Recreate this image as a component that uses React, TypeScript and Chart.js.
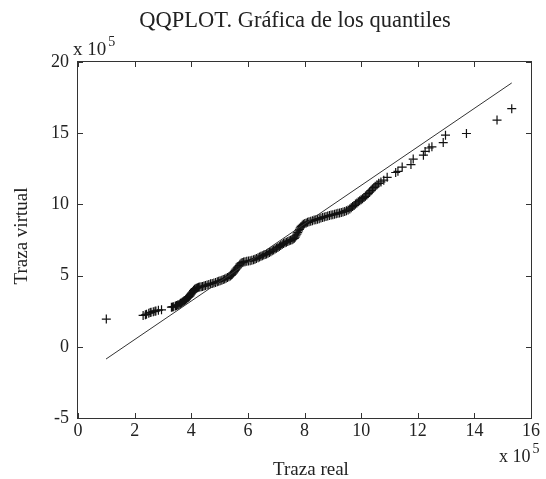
import React, { useEffect, useRef } from "react";
import { Chart, registerables } from "chart.js";

Chart.register(...registerables);

// ---- data (units of 10^5) ----
const xTicks = [0, 2, 4, 6, 8, 10, 12, 14, 16];
const yTicks = [-5, 0, 5, 10, 15, 20];

const realTrace = [
  1.0, 2.3, 2.38, 2.42, 2.5, 2.55, 2.58, 2.66, 2.72, 2.75, 2.84, 2.95,
  3.3, 3.34, 3.38, 3.44, 3.48, 3.52, 3.56, 3.6, 3.62, 3.65, 3.68, 3.71, 3.74,
  3.77, 3.8, 3.83, 3.86, 3.89, 3.92, 3.95, 3.97, 4.0, 4.02, 4.05, 4.08, 4.11,
  4.14, 4.18, 4.22, 4.26, 4.3, 4.35, 4.4, 4.45, 4.5, 4.56, 4.62, 4.68, 4.74,
  4.8, 4.86, 4.92, 4.97, 5.02, 5.08, 5.13, 5.18, 5.23, 5.28, 5.33, 5.38, 5.42,
  5.45, 5.49, 5.52, 5.55, 5.58, 5.62, 5.65, 5.69, 5.72, 5.76, 5.8, 5.85, 5.9,
  5.96, 6.02, 6.08, 6.14, 6.2, 6.25, 6.3, 6.36, 6.41, 6.46, 6.51, 6.56, 6.61,
  6.66, 6.71, 6.76, 6.81, 6.86, 6.91, 6.96, 7.01, 7.06, 7.11, 7.16, 7.21,
  7.26, 7.31, 7.36, 7.41, 7.46, 7.51, 7.56, 7.6, 7.64, 7.67, 7.7, 7.73, 7.76,
  7.79, 7.82, 7.85, 7.88, 7.92, 7.96, 8.01, 8.06, 8.11, 8.16, 8.22, 8.28,
  8.34, 8.4, 8.46, 8.52, 8.58, 8.64, 8.7, 8.76, 8.82, 8.88, 8.94, 9.0, 9.06,
  9.12, 9.18, 9.24, 9.3, 9.36, 9.42, 9.48, 9.54, 9.6, 9.65, 9.7, 9.75, 9.8,
  9.85, 9.9, 9.95, 10.0, 10.05, 10.1, 10.15, 10.2, 10.25, 10.3, 10.35, 10.4,
  10.45, 10.5, 10.56, 10.62, 10.7, 10.8, 10.92, 11.22, 11.3, 11.45, 11.76,
  11.84, 12.2, 12.26, 12.4, 12.5, 12.9, 12.98, 13.72, 14.8, 15.32,
];
const virtualTrace = [
  1.95, 2.2, 2.25, 2.28, 2.36, 2.4, 2.42, 2.47, 2.5, 2.52, 2.57, 2.6,
  2.78, 2.8, 2.82, 2.86, 2.9, 2.93, 2.96, 3.01, 3.05, 3.08, 3.12, 3.17, 3.22,
  3.26, 3.3, 3.36, 3.42, 3.47, 3.52, 3.58, 3.65, 3.72, 3.78, 3.86, 3.95, 4.02,
  4.08, 4.12, 4.15, 4.18, 4.2, 4.22, 4.24, 4.27, 4.3, 4.34, 4.38, 4.42, 4.45,
  4.48, 4.52, 4.56, 4.6, 4.64, 4.68, 4.72, 4.76, 4.81, 4.86, 4.92, 4.98, 5.04,
  5.1, 5.19, 5.28, 5.36, 5.45, 5.54, 5.62, 5.71, 5.8, 5.87, 5.92, 5.95, 5.98,
  6.0, 6.02, 6.05, 6.08, 6.11, 6.15, 6.2, 6.25, 6.3, 6.36, 6.4, 6.44, 6.48,
  6.52, 6.57, 6.62, 6.68, 6.74, 6.8, 6.86, 6.92, 6.98, 7.05, 7.12, 7.18,
  7.25, 7.3, 7.35, 7.4, 7.44, 7.48, 7.52, 7.57, 7.62, 7.7, 7.8, 7.91, 8.02,
  8.14, 8.25, 8.35, 8.45, 8.53, 8.6, 8.65, 8.7, 8.74, 8.78, 8.82, 8.86,
  8.9, 8.93, 8.96, 9.0, 9.04, 9.08, 9.12, 9.15, 9.18, 9.22, 9.25, 9.28, 9.31,
  9.34, 9.37, 9.4, 9.43, 9.47, 9.51, 9.56, 9.61, 9.68, 9.76, 9.85, 9.93, 10.02,
  10.1, 10.18, 10.25, 10.32, 10.4, 10.48, 10.57, 10.66, 10.76, 10.86, 10.97, 11.08,
  11.18, 11.28, 11.38, 11.48, 11.58, 11.7, 11.9, 12.24, 12.32, 12.62, 12.8,
  13.18, 13.46, 13.72, 13.96, 14.04, 14.34, 14.86, 14.98, 15.92, 16.72,
];
const refLineX = [0.99, 15.32];
const refLineY = [-0.86, 18.53];

const titleText = "QQPLOT. Gráfica de los quantiles";
const xLabelText = "Traza real";
const yLabelText = "Traza virtual";
const exponentBase = "x 10";
const exponentPower = "5";

const FONT = "'Liberation Serif', 'Times New Roman', serif";
const INK = "#222";

const decorPlugin = {
  id: "matlabDecor",
  afterDraw(chart: any) {
    const { ctx, chartArea, scales } = chart;
    const { left, right, top, bottom } = chartArea;
    const xs = scales.x;
    const ys = scales.y;
    ctx.save();
    // box
    ctx.strokeStyle = "#333";
    ctx.lineWidth = 1;
    ctx.strokeRect(left - 0.5, top - 0.5, right - left + 1, bottom - top + 1);
    // inside ticks
    const tl = 5;
    ctx.beginPath();
    xTicks.forEach((v) => {
      const px = Math.round(xs.getPixelForValue(v)) + 0.5;
      ctx.moveTo(px, bottom);
      ctx.lineTo(px, bottom - tl);
      ctx.moveTo(px, top);
      ctx.lineTo(px, top + tl);
    });
    yTicks.forEach((v) => {
      const py = Math.round(ys.getPixelForValue(v)) + 0.5;
      ctx.moveTo(left, py);
      ctx.lineTo(left + tl, py);
      ctx.moveTo(right, py);
      ctx.lineTo(right - tl, py);
    });
    ctx.stroke();

    ctx.fillStyle = INK;
    ctx.textBaseline = "alphabetic";
    // title
    ctx.font = `22.5px ${FONT}`;
    ctx.textAlign = "center";
    ctx.fillText(titleText, 295, 27);
    // x label
    ctx.font = `19px ${FONT}`;
    ctx.fillText(xLabelText, 311, 475);
    // y label
    ctx.save();
    ctx.translate(27, 236);
    ctx.rotate(-Math.PI / 2);
    ctx.fillText(yLabelText, 0, 0);
    ctx.restore();
    // exponents
    ctx.textAlign = "left";
    const drawExp = (x: number, y: number, size: number) => {
      ctx.font = `${size}px ${FONT}`;
      ctx.fillText(exponentBase, x, y);
      const w = ctx.measureText(exponentBase).width;
      ctx.font = `14px ${FONT}`;
      ctx.fillText(exponentPower, x + w + 2, y - 9);
    };
    drawExp(73, 55, 19);
    drawExp(499, 462, 18);
    ctx.restore();
  },
};

export default function App() {
  const ref = useRef<HTMLCanvasElement>(null);
  useEffect(() => {
    document.body.style.margin = "0";
    const canvas = ref.current;
    if (!canvas) return;
    const points = realTrace.map((x, i) => ({ x, y: virtualTrace[i] }));
    const line = refLineX.map((x, i) => ({ x, y: refLineY[i] }));
    const chart = new Chart(canvas, {
      type: "scatter",
      data: {
        datasets: [
          {
            data: line,
            showLine: true,
            borderColor: "#333",
            borderWidth: 1,
            pointRadius: 0,
          },
          {
            data: points,
            pointStyle: "cross",
            pointRadius: 4.5,
            borderColor: "#111",
            backgroundColor: "#111",
            pointBorderWidth: 1.2,
            borderWidth: 1.2,
          },
        ],
      },
      options: {
        animation: false,
        responsive: false,
        devicePixelRatio: 1,
        layout: { padding: { top: 62, right: 15, left: 0, bottom: 0 } },
        plugins: {
          legend: { display: false },
          tooltip: { enabled: false },
          title: { display: false },
        },
        scales: {
          x: {
            type: "linear",
            min: 0,
            max: 16,
            afterFit: (s: any) => {
              s.height = 61;
            },
            afterBuildTicks: (s: any) => {
              s.ticks = xTicks.map((v) => ({ value: v }));
            },
            grid: { display: false, drawTicks: false },
            border: { display: false },
            ticks: {
              padding: 2,
              color: INK,
              font: { family: FONT, size: 18 },
              maxRotation: 0,
              autoSkip: false,
            },
          },
          y: {
            type: "linear",
            min: -5,
            max: 20,
            afterFit: (s: any) => {
              s.width = 78;
            },
            afterBuildTicks: (s: any) => {
              s.ticks = yTicks.map((v) => ({ value: v }));
            },
            grid: { display: false, drawTicks: false },
            border: { display: false },
            ticks: {
              padding: 9,
              color: INK,
              font: { family: FONT, size: 18 },
              autoSkip: false,
            },
          },
        },
      },
      plugins: [decorPlugin],
    });
    return () => chart.destroy();
  }, []);
  return (
    <div style={{ position: "fixed", left: 0, top: 0, width: 546, height: 479, background: "#fff" }}>
      <canvas ref={ref} width={546} height={479} style={{ width: 546, height: 479, display: "block" }} />
    </div>
  );
}
